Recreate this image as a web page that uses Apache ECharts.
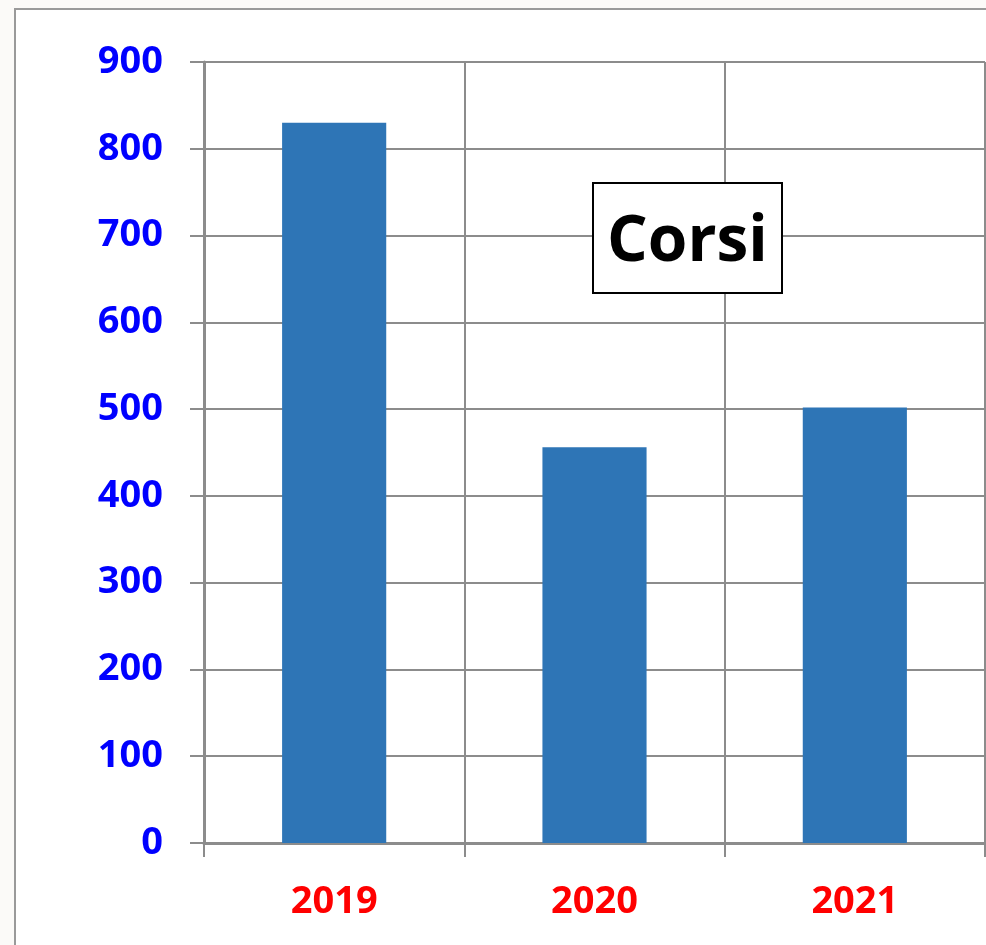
<!DOCTYPE html>
<html>
<head>
<meta charset="utf-8">
<script src="https://cdn.jsdelivr.net/npm/echarts@6/dist/echarts.min.js"></script>
<style>
  html, body { margin: 0; padding: 0; background: #fbfaf8; }
  #chart { width: 986px; height: 945px; }
</style>
</head>
<body>
<div id="chart"></div>
<script>
var years = ['2019', '2020', '2021'];
var corsi = [830, 456, 502];
var yTicks = [0, 100, 200, 300, 400, 500, 600, 700, 800, 900];

var dom = document.getElementById('chart');
var myChart = echarts.init(dom, null, {
  renderer: 'canvas',
  useDirtyRect: false
});

var option;

option = {
  backgroundColor: 'transparent',
  animation: false,
  textStyle: { fontFamily: 'Open Sans' },
  graphic: [
    {
      type: 'rect',
      z: -10,
      shape: { x: 15, y: 9, width: 1100, height: 1100 },
      style: { fill: '#ffffff', stroke: '#9a9a9a', lineWidth: 2 }
    }
  ],
  title: {
    text: 'Corsi',
    left: 593,
    top: 183,
    padding: [27, 14, 17, 14],
    borderColor: '#000',
    borderWidth: 2,
    backgroundColor: '#fff',
    textStyle: {
      fontFamily: 'Open Sans',
      fontWeight: 'bold',
      fontSize: 64,
      lineHeight: 66,
      color: '#000'
    }
  },
  grid: {
    left: 204,
    right: 1,
    top: 62,
    bottom: 102
  },
  xAxis: {
    type: 'category',
    data: years,
    axisLine: { lineStyle: { color: '#8c8c8c', width: 3 } },
    axisTick: { show: true, length: 14, lineStyle: { color: '#8c8c8c', width: 2 } },
    splitLine: { show: true, lineStyle: { color: '#8c8c8c', width: 2 } },
    axisLabel: {
      margin: 40,
      color: '#ff0000',
      fontWeight: 'bold',
      fontSize: 38,
      fontFamily: 'Open Sans'
    }
  },
  yAxis: {
    type: 'value',
    min: yTicks[0],
    max: yTicks[yTicks.length - 1],
    interval: 100,
    axisLine: { show: true, lineStyle: { color: '#8c8c8c', width: 3 } },
    axisTick: { show: true, length: 14, lineStyle: { color: '#8c8c8c', width: 2 } },
    splitLine: { show: true, lineStyle: { color: '#8c8c8c', width: 2 } },
    axisLabel: {
      margin: 41,
      color: '#0000ff',
      fontWeight: 'bold',
      fontSize: 38,
      fontFamily: 'Open Sans'
    }
  },
  series: [
    {
      name: 'Corsi',
      type: 'bar',
      barWidth: '40%',
      itemStyle: { color: '#2e75b6' },
      data: corsi
    }
  ]
};

if (option && typeof option === 'object') {
  myChart.setOption(option);
}

window.addEventListener('resize', myChart.resize);
</script>
</body>
</html>
